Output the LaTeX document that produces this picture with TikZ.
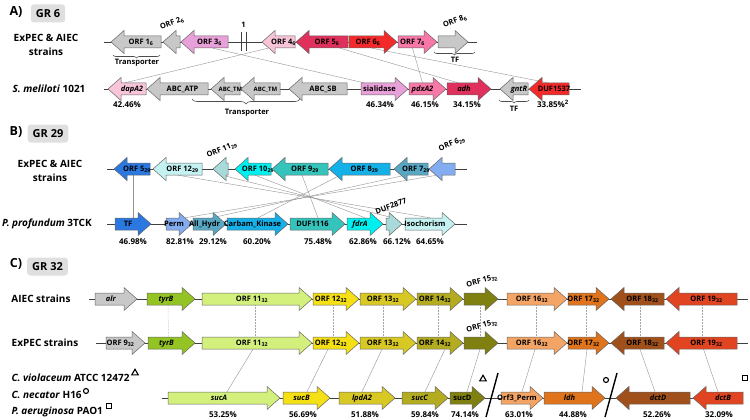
\documentclass[tikz,border=0pt]{standalone}
\usepackage{fontspec}
\setmainfont{Open Sans}
\usepackage{tikz}
\usetikzlibrary{arrows.meta, positioning, backgrounds, decorations.pathreplacing, shapes.geometric}

% gene colours
\definecolor{gnGrey}{HTML}{C8C8C8}
\definecolor{gnOrch}{HTML}{E8A0D8}
\definecolor{gnLpink}{HTML}{F8C4D8}
\definecolor{gnCrim}{HTML}{E0305C}
\definecolor{gnRed}{HTML}{F42A2A}
\definecolor{gnPink}{HTML}{F878A8}
\definecolor{gnBlue}{HTML}{2A78E0}
\definecolor{gnPalec}{HTML}{C4F2F2}
\definecolor{gnPalet}{HTML}{A8DADA}
\definecolor{gnCyan}{HTML}{00F0F0}
\definecolor{gnTeal}{HTML}{34C4BC}
\definecolor{gnSky}{HTML}{14B0E8}
\definecolor{gnSteel}{HTML}{58A8C4}
\definecolor{gnLblue}{HTML}{84ACF0}
\definecolor{gnYgrn}{HTML}{94C424}
\definecolor{gnLgrn}{HTML}{D4F07C}
\definecolor{gnYel}{HTML}{F4E014}
\definecolor{gnOyel}{HTML}{D8C824}
\definecolor{gnOliv}{HTML}{B4AC20}
\definecolor{gnDoliv}{HTML}{808010}
\definecolor{gnLorg}{HTML}{F4A464}
\definecolor{gnOrng}{HTML}{E0741C}
\definecolor{gnBrwn}{HTML}{A0501A}
\definecolor{gnRorg}{HTML}{E04420}

% right-pointing gene: name, tail x, tip x, y, fill, text
\newcommand{\gener}[6]{%
  \draw[gene, fill=#5] (#2,#4-6) -- (#3-13,#4-6) -- (#3-13,#4-11.5) -- (#3,#4)
    -- (#3-13,#4+11.5) -- (#3-13,#4+6) -- (#2,#4+6) -- cycle;
  \node[gtxt] (#1) at ({(#2+#3)/2-5},#4) {#6};}
% left-pointing gene: name, tip x, tail x, y, fill, text
\newcommand{\genel}[6]{%
  \draw[gene, fill=#5] (#3,#4-6) -- (#2+13,#4-6) -- (#2+13,#4-11.5) -- (#2,#4)
    -- (#2+13,#4+11.5) -- (#2+13,#4+6) -- (#3,#4+6) -- cycle;
  \node[gtxt] (#1) at ({(#2+#3)/2+5},#4) {#6};}
\newcommand{\smtxt}[1]{{\fontsize{6}{7}\selectfont #1}}

\begin{document}
\begin{tikzpicture}[x=1pt, y=-1pt,
      gene/.style={draw=black!60, line width=0.5pt},
      gtxt/.style={font=\fontsize{7.5}{8}\selectfont\bfseries, inner sep=0pt,
                   minimum height=12pt, text height=5.5pt, text depth=1pt},
      bb/.style={line width=0.7pt, black!75},
      lnk/.style={gray!85, line width=0.4pt},
      vlk/.style={gray!70, line width=0.5pt, densely dotted},
      pct/.style={font=\fontsize{8}{9}\selectfont\bfseries},
      rlab/.style={font=\fontsize{7.5}{8}\selectfont\bfseries},
      strn/.style={font=\fontsize{10}{14}\selectfont\bfseries, align=center},
      panel/.style={font=\fontsize{12.5}{14}\selectfont\bfseries},
      grbox/.style={fill=gray!25, rounded corners=3pt, inner xsep=5pt, minimum height=18pt,
                    font=\fontsize{11}{12}\selectfont\bfseries},
      brc/.style={decorate, decoration={brace, amplitude=3pt}, black!70, line width=0.6pt},
      mk/.style={draw, line width=1.1pt, inner sep=0pt},
      mtri/.style={regular polygon, regular polygon sides=3, minimum size=7.5pt},
      mcirc/.style={circle, minimum size=5pt},
      msq/.style={rectangle, minimum size=5pt},
      slsh/.style={line width=1.4pt}]
    \useasboundingbox (0,0) rectangle (750,420);

    % ---- A) GR 6 ----
    \node[panel] (lblA) at (16,12) {A)};
    \node[grbox] (grA) at (48,13.5) {GR 6};
    \node[strn] (stA) at (46,45) {ExPEC \& AIEC\\strains};
    \node[strn] (smel) at (49,89) {\textit{S. meliloti} 1021};

    \draw[bb] (104,42) -- (477,42);
    \genel{a1}{111}{161}{42}{gnGrey}{ORF 1\textsubscript{6}}
    \genel{a2}{163}{180}{42}{gnGrey}{}
    \genel{a3}{181}{228}{42}{gnOrch}{ORF 3\textsubscript{6}}
    \genel{a4}{262}{295}{42}{gnLpink}{ORF 4\textsubscript{6}}
    \genel{a5}{296}{348}{42}{gnCrim}{ORF 5\textsubscript{6}}
    \gener{a6}{349}{397}{42}{gnRed}{ORF 6\textsubscript{6}}
    \gener{a7}{398}{437}{42}{gnPink}{ORF 7\textsubscript{6}}
    \gener{a8}{438}{468}{42}{gnGrey}{}
    \draw[bb, line width=0.8pt] (241,32) -- (241,51) (246,32) -- (246,51);
    \node[rlab] (brk) at (243.5,25) {1};
    \node[rlab, rotate=20] (la2) at (172,23) {ORF 2\textsubscript{6}};
    \node[rlab, rotate=20] (la8) at (455,21) {ORF 8\textsubscript{6}};
    \draw[brc] (160,55) -- (113,55);
    \node[rlab] (trA) at (137,63) {Transporter};
    \draw[brc] (475,52) -- (434,52);
    \node[rlab] (tfA) at (455,60) {TF};

    \draw[bb] (104,89) -- (581,89);
    \genel{mDap}{108}{146}{89}{gnLpink}{\textit{dapA2}}
    \genel{mAtp}{147}{208}{89}{gnGrey}{ABC\_ATP}
    \genel{mTm1}{211}{240}{89}{gnGrey}{\smtxt{ABC\_TM}}
    \genel{mTm2}{241}{280}{89}{gnGrey}{\smtxt{ABC\_TM}}
    \genel{mSb}{289}{347}{89}{gnGrey}{ABC\_SB}
    \gener{mSia}{361}{408}{89}{gnOrch}{sialidase}
    \gener{mPdx}{409}{446}{89}{gnPink}{\textit{pdxA2}}
    \gener{mAdh}{447}{491}{89}{gnCrim}{\textit{adh}}
    \genel{mGnt}{500}{528}{89}{gnGrey}{\textit{gntR}}
    \genel{mDuf}{529}{569}{89}{gnRed}{DUF1537}
    \draw[brc, decoration={amplitude=5pt}] (300,99) -- (192,99);
    \node[rlab] (trM) at (247,113) {Transporter};
    \draw[brc] (529,100) -- (499,100);
    \node[rlab] (tfM) at (514,109) {TF};

    \node[pct] (qA1) at (127,105) {42.46\%};
    \node[pct] (qA2) at (380,105) {46.34\%};
    \node[pct] (qA3) at (425,105) {46.15\%};
    \node[pct] (qA4) at (467,105) {34.15\%};
    \node[pct] (qA5) at (553,104) {33.85\%\textsuperscript{2}};

    \begin{scope}[on background layer]
    \draw[lnk] ([xshift=3.5]a3.south) -- ([xshift=-15.5]mSia.north);
    \draw[lnk] ([xshift=-15.5]a4.south) -- ([xshift=-7]mDap.north);
    \draw[lnk] ([xshift=13]a5.south) -- ([xshift=-6]mAdh.north);
    \draw[lnk] ([xshift=4]a6.south) -- ([xshift=-6]mDuf.north);
    \draw[lnk] (a7.south) -- (mPdx.north);
    \end{scope}

    % ---- B) GR 29 ----
    \node[panel] (lblB) at (16,132) {B)};
    \node[grbox] (grB) at (48,133.5) {GR 29};
    \node[strn] (stB) at (50,171) {ExPEC \& AIEC\\strains};
    \node[strn] (ppro) at (47,224) {\textit{P. profundum} 3TCK};

    \draw[bb] (107,169) -- (467,169);
    \genel{b5}{114}{150}{169}{gnBlue}{ORF 5\textsubscript{29}}
    \genel{b12}{153}{202}{169}{gnPalec}{ORF 12\textsubscript{29}}
    \genel{b11}{213}{228}{169}{gnPalet}{}
    \genel{b10}{235}{271}{169}{gnCyan}{ORF 10\textsubscript{29}}
    \genel{b9}{272}{328}{169}{gnTeal}{ORF 9\textsubscript{29}}
    \genel{b8}{329}{390}{169}{gnSky}{ORF 8\textsubscript{29}}
    \genel{b7}{394}{428}{169}{gnSteel}{ORF 7\textsubscript{29}}
    \genel{b6}{429}{455}{169}{gnLblue}{}
    \node[rlab, rotate=22] (lb11) at (222,150) {ORF 11\textsubscript{29}};
    \node[rlab, rotate=22] (lb6) at (452,144) {ORF 6\textsubscript{29}};

    \draw[bb] (107,224) -- (467,224);
    \gener{pTF}{115}{151}{224}{gnBlue}{TF}
    \gener{pPerm}{166}{192}{224}{gnLblue}{Perm}
    \gener{pAll}{193}{226}{224}{gnSteel}{All\_Hydr}
    \gener{pCarb}{227}{288}{224}{gnSky}{Carbam\_Kinase}
    \gener{pD16}{290}{345}{224}{gnTeal}{DUF1116}
    \gener{pFdr}{347}{383}{224}{gnCyan}{\textit{fdrA}}
    \gener{pD28}{386}{402}{224}{gnPalet}{}
    \gener{pIso}{405}{455}{224}{gnPalec}{Isochorism}
    \node[rlab, rotate=20] (lp28) at (391,206) {DUF2877};

    \node[pct] (qB1) at (133,241.5) {46.98\%};
    \node[pct] (qB2) at (180,241.5) {82.81\%};
    \node[pct] (qB3) at (213,241.5) {29.12\%};
    \node[pct] (qB4) at (257,241.5) {60.20\%};
    \node[pct] (qB5) at (318,241.5) {75.48\%};
    \node[pct] (qB6) at (363,241.5) {62.86\%};
    \node[pct] (qB7) at (397,241.5) {66.12\%};
    \node[pct] (qB8) at (430,241.5) {64.65\%};

    \begin{scope}[on background layer]
    \foreach \t/\ts/\b/\bs in {b5/-4/pTF/5, b12/-4.5/pIso/5, b11/-3.5/pD28/4,
        b10/-3/pFdr/5, b9/-3/pD16/5.5, b8/-24.5/pCarb/5.5, b7/-11/pAll/7.5, b6/-10/pPerm/11}
      \draw[lnk] ([xshift=\ts]\t.south) -- ([xshift=\bs]\b.north);
    \end{scope}

    % ---- C) GR 32 ----
    \node[panel] (lblC) at (16,264) {C)};
    \node[grbox] (grC) at (47.5,266.5) {GR 32};
    \node[strn] (stAI) at (41,299) {AIEC strains};
    \node[strn] (stEx) at (45,343) {ExPEC strains};

    \draw[bb] (89,299) -- (748,299);
    \gener{cAlr}{95}{137}{299}{gnGrey}{\textit{alr}}
    \gener{cTyr}{147}{195}{299}{gnYgrn}{\textit{tyrB}}
    \gener{c11}{202}{312}{299}{gnLgrn}{ORF 11\textsubscript{32}}
    \gener{c12}{313}{359}{299}{gnYel}{ORF 12\textsubscript{32}}
    \gener{c13}{360}{416}{299}{gnOyel}{ORF 13\textsubscript{32}}
    \gener{c14}{417}{463}{299}{gnOliv}{ORF 14\textsubscript{32}}
    \gener{c15}{464}{498}{299}{gnDoliv}{}
    \gener{c16}{507}{567}{299}{gnLorg}{ORF 16\textsubscript{32}}
    \gener{c17}{568}{609}{299}{gnOrng}{ORF 17\textsubscript{32}}
    \genel{c18}{611}{664}{299}{gnBrwn}{ORF 18\textsubscript{32}}
    \genel{c19}{666}{737}{299}{gnRorg}{ORF 19\textsubscript{32}}
    \node[rlab, rotate=15] (lc15) at (482,281) {ORF 15\textsubscript{32}};

    \draw[bb] (96,343) -- (748,343);
    \gener{eO9}{106}{145}{343}{gnGrey}{ORF 9\textsubscript{32}}
    \gener{eTyr}{148}{195}{343}{gnYgrn}{\textit{tyrB}}
    \gener{e11}{202}{312}{343}{gnLgrn}{ORF 11\textsubscript{32}}
    \gener{e12}{313}{359}{343}{gnYel}{ORF 12\textsubscript{32}}
    \gener{e13}{360}{416}{343}{gnOyel}{ORF 13\textsubscript{32}}
    \gener{e14}{417}{463}{343}{gnOliv}{ORF 14\textsubscript{32}}
    \gener{e15}{464}{498}{343}{gnDoliv}{}
    \gener{e16}{507}{567}{343}{gnLorg}{ORF 16\textsubscript{32}}
    \gener{e17}{568}{609}{343}{gnOrng}{ORF 17\textsubscript{32}}
    \genel{e18}{611}{664}{343}{gnBrwn}{ORF 18\textsubscript{32}}
    \genel{e19}{666}{737}{343}{gnRorg}{ORF 19\textsubscript{32}}
    \node[rlab, rotate=15] (le15) at (482,326) {ORF 15\textsubscript{32}};

    \node[strn, anchor=west] (cvio) at (8,378) {\textit{C. violaceum} ATCC 12472};
    \node[strn, anchor=west] (cnec) at (8,395) {\textit{C. necator} H16};
    \node[strn, anchor=west] (paer) at (8,412) {\textit{P. aeruginosa} PAO1};
    \node[mk, mtri] (mkT) at (135,373) {};
    \node[mk, mcirc] (mkC) at (86,391) {};
    \node[mk, msq] (mkS) at (109,406) {};

    \draw[bb] (162,398) -- (743,398);
    \gener{sA}{168}{280}{398}{gnLgrn}{\textit{sucA}}
    \gener{sB}{283}{330}{398}{gnYel}{\textit{sucB}}
    \gener{sLpd}{339}{395}{398}{gnOyel}{\textit{lpdA2}}
    \gener{sC}{402}{448}{398}{gnOliv}{\textit{sucC}}
    \gener{sD}{450}{485}{398}{gnDoliv}{sucD}
    \gener{sPerm}{501}{543}{398}{gnLorg}{Orf3\_Perm}
    \gener{sLdh}{544}{605}{398}{gnOrng}{\textit{ldh}}
    \genel{sDctD}{616}{690}{398}{gnBrwn}{\textit{dctD}}
    \genel{sDctB}{693}{743}{398}{gnRorg}{\textit{dctB}}
    \draw[slsh] (498,373) -- (486,417);
    \draw[slsh] (617,373) -- (605,417);
    \node[mk, mtri] (mkT2) at (483,379) {};
    \node[mk, mcirc] (mkC2) at (606,380) {};
    \node[mk, msq] (mkS2) at (745,378) {};

    \node[pct] (qC1) at (223,415) {53.25\%};
    \node[pct] (qC2) at (303,415) {56.69\%};
    \node[pct] (qC3) at (365,415) {51.88\%};
    \node[pct] (qC4) at (425,415) {59.84\%};
    \node[pct] (qC5) at (465,415) {74.14\%};
    \node[pct] (qC6) at (519,415) {63.01\%};
    \node[pct] (qC7) at (573,415) {44.88\%};
    \node[pct] (qC8) at (657,415) {52.26\%};
    \node[pct] (qC9) at (719,415) {32.09\%};

    \begin{scope}[on background layer]
    \foreach \n/\s in {Tyr/2, 11/3, 12/2, 13/0, 14/3, 15/4, 16/4, 17/2.5, 18/-2.5, 19/-4}
      \draw[vlk] ([xshift=\s]c\n.south) -- ([xshift=\s]e\n.north);
    \foreach \e/\es/\t/\ts in {e11/1/sA/8, e12/-3/sB/5.5, e13/-1/sLpd/0, e14/10/sC/5,
        e15/4/sD/4.5, e16/3/sPerm/5, e17/3.5/sLdh/12.5, e18/-2.5/sDctD/-3, e19/-3/sDctB/-5}
      \draw[lnk] ([xshift=\es]\e.south) -- ([xshift=\ts]\t.north);
    \end{scope}

\end{tikzpicture}
\end{document}
